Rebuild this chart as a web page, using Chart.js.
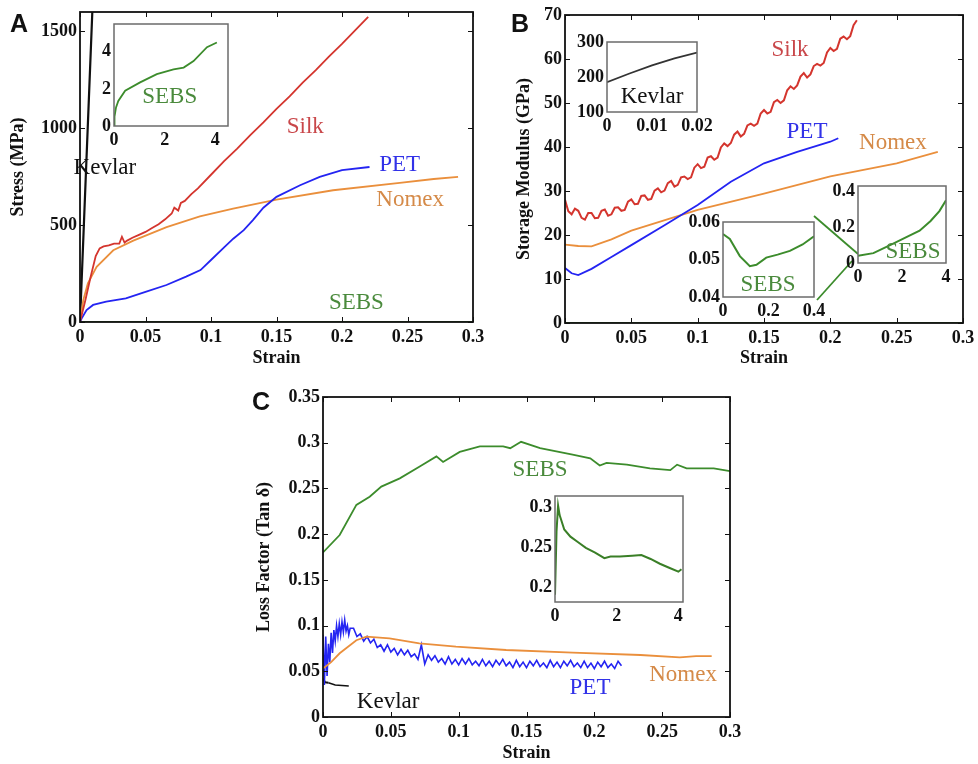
<!DOCTYPE html>
<html>
<head>
<meta charset="utf-8">
<script src="https://cdn.jsdelivr.net/npm/chart.js@4.4.0/dist/chart.umd.min.js"></script>
<style>
  body { margin: 0; background: #fff; }
  #fig { position: relative; width: 978px; height: 764px; overflow: hidden; }
  #fig canvas { position: absolute; }
  .tag { position: absolute; z-index: 5; font: bold 25px 'Liberation Sans', Arial, sans-serif; line-height: 1; color: #111; }
</style>
</head>
<body>
<div id="fig">
  <div class="tag" style="left:10px;top:11px">A</div>
  <div class="tag" style="left:511px;top:11px">B</div>
  <div class="tag" style="left:252px;top:389px">C</div>
</div>
<script>
// ---------- shared ticks ----------
var strainTicks = [0, 0.05, 0.1, 0.15, 0.2, 0.25, 0.3];
var strainLabels = ['0', '0.05', '0.1', '0.15', '0.2', '0.25', '0.3'];

// ---------- A: stress vs strain ----------
var stressTicks = [0, 500, 1000, 1500];
var stressLabels = ['0', '500', '1000', '1500'];
var aKevlarX = [0, 0.003, 0.006, 0.0094];
var aKevlarY = [0, 510, 1020, 1600];
var aSilkX = [0, 0.004, 0.008, 0.012, 0.015, 0.018, 0.022, 0.026, 0.03, 0.032, 0.034, 0.036, 0.04, 0.045, 0.05, 0.055, 0.06, 0.065, 0.07, 0.072, 0.075, 0.077, 0.08, 0.085, 0.09, 0.1, 0.11, 0.12, 0.13, 0.14, 0.15, 0.16, 0.17, 0.18, 0.19, 0.2, 0.21, 0.22];
var aSilkY = [0, 110, 230, 340, 380, 390, 395, 405, 405, 440, 410, 420, 435, 450, 465, 485, 505, 530, 560, 590, 575, 615, 625, 660, 690, 760, 830, 895, 965, 1030, 1100, 1165, 1235, 1300, 1370, 1435, 1505, 1575];
var aPetX = [0, 0.0013, 0.005, 0.01, 0.02, 0.035, 0.05, 0.066, 0.081, 0.092, 0.1, 0.11, 0.117, 0.125, 0.132, 0.14, 0.15, 0.168, 0.183, 0.2, 0.221];
var aPetY = [0, 19, 62, 88, 105, 122, 156, 191, 234, 268, 320, 385, 430, 474, 526, 590, 646, 706, 749, 784, 800];
var aNomexX = [0, 0.0025, 0.006, 0.0127, 0.0254, 0.0407, 0.0661, 0.0915, 0.1169, 0.15, 0.1932, 0.2441, 0.27, 0.2886];
var aNomexY = [0, 113, 200, 285, 370, 420, 490, 545, 585, 632, 680, 718, 738, 749];
var aSebsX = [0, 0.3];
var aSebsY = [0, 0];
// inset: SEBS up to large strain
var aInX = [0, 0.02, 0.08, 0.17, 0.44, 1.03, 1.69, 2.35, 2.75, 3.14, 3.67, 4.06];
var aInY = [0, 0.5, 1.0, 1.35, 1.9, 2.35, 2.8, 3.05, 3.15, 3.5, 4.25, 4.5];
var aInTicks = [0, 2, 4];
var aInLabels = ['0', '2', '4'];

// ---------- B: storage modulus ----------
var modTicks = [0, 10, 20, 30, 40, 50, 60, 70];
var modLabels = ['0', '10', '20', '30', '40', '50', '60', '70'];
var bSilkX = [0, 0.0025, 0.005, 0.0075, 0.01, 0.0125, 0.015, 0.0175, 0.02, 0.0225, 0.025, 0.0275, 0.03, 0.0325, 0.035, 0.0375, 0.04, 0.0425, 0.045, 0.0475,
  0.05, 0.0525, 0.055, 0.0575, 0.06, 0.0625, 0.065, 0.0675, 0.07, 0.0725, 0.075, 0.0775, 0.08, 0.0825, 0.085, 0.0875, 0.09, 0.0925, 0.095, 0.0975,
  0.1, 0.1025, 0.105, 0.1075, 0.11, 0.1125, 0.115, 0.1175, 0.12, 0.1225, 0.125, 0.1275, 0.13, 0.1325, 0.135, 0.1375, 0.14, 0.1425, 0.145, 0.1475,
  0.15, 0.1525, 0.155, 0.1575, 0.16, 0.1625, 0.165, 0.1675, 0.17, 0.1725, 0.175, 0.1775, 0.18, 0.1825, 0.185, 0.1875, 0.19, 0.1925, 0.195, 0.1975,
  0.2, 0.2025, 0.205, 0.2075, 0.21, 0.2125, 0.215, 0.2175, 0.22];
var bSilkY = [28, 25.4, 24.7, 26.0, 25.5, 23.9, 23.5, 25.0, 25.0, 23.8, 23.9, 25.5, 25.8, 24.4, 24.7, 26.2, 26.3, 25.5, 25.7, 27.6,
  28.1, 27.0, 27.1, 28.9, 29.0, 28.0, 28.2, 30.1, 30.6, 29.7, 30.1, 31.8, 32.3, 31.0, 31.4, 33.1, 33.3, 32.7, 33.1, 35.3,
  36.1, 35.2, 35.5, 37.6, 37.9, 37.1, 37.6, 39.9, 40.8, 40.2, 40.9, 42.8, 43.5, 42.4, 43.0, 44.9, 45.3, 44.8, 45.3, 47.6,
  48.4, 47.6, 48.0, 50.2, 50.7, 50.0, 50.6, 52.9, 53.8, 53.2, 54.0, 56.0, 56.8, 55.8, 56.5, 58.4, 58.9, 58.5, 59.1, 61.5,
  62.5, 61.8, 62.3, 64.6, 65.1, 64.5, 65.2, 67.7, 68.8];
var bPetX = [0, 0.005, 0.01, 0.02, 0.035, 0.05, 0.075, 0.1, 0.125, 0.15, 0.175, 0.2, 0.206];
var bPetY = [12.5, 11.3, 10.9, 12.3, 15, 17.7, 22.2, 26.8, 32.1, 36.3, 38.9, 41.2, 42];
var bNomexX = [0, 0.01, 0.02, 0.035, 0.05, 0.1, 0.15, 0.2, 0.25, 0.281];
var bNomexY = [17.8, 17.5, 17.4, 19, 21, 25.7, 29.4, 33.3, 36.3, 38.9];
var bSebsX = [0, 0.3];
var bSebsY = [0, 0];
// inset: Kevlar
var bKevX = [0, 0.005, 0.01, 0.015, 0.02];
var bKevY = [185, 210, 233, 253, 270];
var bKevTicksX = [0, 0.01, 0.02];
var bKevLabelsX = ['0', '0.01', '0.02'];
var bKevTicksY = [100, 200, 300];
var bKevLabelsY = ['100', '200', '300'];
// inset: SEBS, small strain
var bIn1X = [0, 0.03, 0.074, 0.118, 0.147, 0.19, 0.24, 0.294, 0.35, 0.4];
var bIn1Y = [0.0568, 0.0555, 0.0509, 0.0482, 0.0486, 0.0505, 0.0513, 0.0523, 0.054, 0.0562];
var bIn1TicksX = [0, 0.2, 0.4];
var bIn1LabelsX = ['0', '0.2', '0.4'];
var bIn1TicksY = [0.04, 0.05, 0.06];
var bIn1LabelsY = ['0.04', '0.05', '0.06'];
// inset: SEBS, large strain
var bIn2X = [0, 0.7, 1.46, 2.2, 2.8, 3.3, 3.7, 4];
var bIn2Y = [0.04, 0.055, 0.1, 0.145, 0.18, 0.235, 0.29, 0.35];
var bIn2TicksX = [0, 2, 4];
var bIn2LabelsX = ['0', '2', '4'];
var bIn2TicksY = [0, 0.2, 0.4];
var bIn2LabelsY = ['0', '0.2', '0.4'];

// ---------- C: loss factor ----------
var lossTicks = [0, 0.05, 0.1, 0.15, 0.2, 0.25, 0.3, 0.35];
var lossLabels = ['0', '0.05', '0.1', '0.15', '0.2', '0.25', '0.3', '0.35'];
var cSebsX = [0, 0.0123, 0.0246, 0.0344, 0.043, 0.0566, 0.0713, 0.0836, 0.0885, 0.1008, 0.1156, 0.1328, 0.138, 0.146, 0.16, 0.184, 0.197, 0.204, 0.209, 0.224, 0.241, 0.256, 0.261, 0.268, 0.288, 0.3];
var cSebsY = [0.18, 0.199, 0.232, 0.241, 0.252, 0.261, 0.274, 0.285, 0.279, 0.29, 0.296, 0.296, 0.294, 0.301, 0.294, 0.287, 0.283, 0.275, 0.278, 0.276, 0.272, 0.27, 0.276, 0.272, 0.272, 0.269];
var cNomexX = [0, 0.006, 0.0123, 0.0246, 0.032, 0.049, 0.071, 0.098, 0.135, 0.184, 0.234, 0.263, 0.275, 0.2865];
var cNomexY = [0.053, 0.06, 0.0697, 0.084, 0.0878, 0.086, 0.0806, 0.0769, 0.0733, 0.0703, 0.0678, 0.0653, 0.0665, 0.0665];
var cPetX = [0, 0.001, 0.002, 0.003, 0.004, 0.005, 0.006, 0.007, 0.008, 0.009, 0.01, 0.011, 0.012, 0.013, 0.014, 0.015, 0.016, 0.017, 0.018, 0.019, 0.02,
  0.0225, 0.025, 0.0275, 0.03, 0.0325, 0.035, 0.0375, 0.04, 0.0425, 0.045, 0.0475, 0.05, 0.0525, 0.055, 0.0575, 0.06,
  0.0625, 0.065, 0.0675, 0.07, 0.0725, 0.075, 0.0775, 0.08, 0.0825, 0.085, 0.0875, 0.09, 0.0925, 0.095, 0.0975, 0.1,
  0.1025, 0.105, 0.1075, 0.11, 0.1125, 0.115, 0.1175, 0.12, 0.1225, 0.125, 0.1275, 0.13, 0.1325, 0.135, 0.1375, 0.14,
  0.1425, 0.145, 0.1475, 0.15, 0.1525, 0.155, 0.1575, 0.16, 0.1625, 0.165, 0.1675, 0.17, 0.1725, 0.175, 0.1775, 0.18,
  0.1825, 0.185, 0.1875, 0.19, 0.1925, 0.195, 0.1975, 0.2, 0.2025, 0.205, 0.2075, 0.21, 0.2125, 0.215, 0.2175, 0.22];
var cPetY = [0.09, 0.035, 0.088, 0.045, 0.08, 0.06, 0.092, 0.07, 0.095, 0.083, 0.1, 0.088, 0.102, 0.09, 0.104, 0.093, 0.106, 0.094, 0.1, 0.09, 0.097,
  0.097, 0.088, 0.091, 0.083, 0.088, 0.081, 0.085, 0.076, 0.079, 0.072, 0.079, 0.071, 0.075, 0.068, 0.074, 0.068,
  0.073, 0.066, 0.069, 0.063, 0.079, 0.058, 0.068, 0.062, 0.067, 0.06, 0.064, 0.058, 0.066, 0.058, 0.063, 0.057,
  0.064, 0.058, 0.064, 0.057, 0.061, 0.056, 0.063, 0.056, 0.061, 0.055, 0.062, 0.057, 0.063, 0.056, 0.06, 0.054,
  0.062, 0.055, 0.06, 0.054, 0.061, 0.056, 0.062, 0.055, 0.059, 0.054, 0.062, 0.055, 0.06, 0.054, 0.061, 0.056,
  0.062, 0.055, 0.059, 0.054, 0.061, 0.054, 0.059, 0.053, 0.06, 0.055, 0.061, 0.054, 0.058, 0.053, 0.061, 0.056];
var cKevX = [0, 0.0015, 0.004];
var cKevY = [0.042, 0.038, 0.0375];
// inset: SEBS over large strain
var cInX = [0, 0.05, 0.1, 0.15, 0.3, 0.5, 0.75, 1, 1.3, 1.6, 1.8, 2.1, 2.5, 2.8, 3.1, 3.4, 3.7, 4, 4.1];
var cInY = [0.19, 0.27, 0.302, 0.29, 0.272, 0.263, 0.256, 0.249, 0.243, 0.236, 0.238, 0.238, 0.239, 0.24, 0.235, 0.229, 0.224, 0.219, 0.222];
var cInTicksX = [0, 2, 4];
var cInLabelsX = ['0', '2', '4'];
var cInTicksY = [0.2, 0.25, 0.3];
var cInLabelsY = ['0.2', '0.25', '0.3'];

// ---------- styling ----------
var SERIF = "'Liberation Serif', 'Times New Roman', serif";
var INK = '#111';
var RED = '#d4352e', BLUE = '#2424f2', ORANGE = '#ea8f3c', GREEN = '#3c8c2c';
var TXT_RED = '#c9474a', TXT_BLUE = '#3232e8', TXT_ORANGE = '#d58a48', TXT_GREEN = '#4a8a3c';

var fig = document.getElementById('fig');

function pts(xs, ys) {
  return xs.map(function (x, i) { return { x: x, y: ys[i] }; });
}
function line(xs, ys, color, width) {
  return { data: pts(xs, ys), borderColor: color, borderWidth: width, showLine: true, pointRadius: 0, fill: false };
}
function setTicks(vals) {
  return function (s) { s.ticks = vals.map(function (v) { return { value: v }; }); };
}
function fixSize(size) {
  return function (s) {
    if (s.isHorizontal()) s.height = size; else s.width = size;
    s.paddingLeft = 0; s.paddingRight = 0; s.paddingTop = 0; s.paddingBottom = 0;
  };
}
function tickFont() { return { family: SERIF, size: 18, weight: 'bold' }; }
function titleFont() { return { family: SERIF, size: 18, weight: 'bold' }; }

// frame box, inward ticks, text notes, leader and link lines
function decor(p) {
  return {
    id: 'decor',
    beforeDraw: function (chart) {
      if (!p.inset) return;
      var a = chart.chartArea, c = chart.ctx;
      c.save();
      c.fillStyle = '#fff';
      c.fillRect(a.left, a.top, a.right - a.left, a.bottom - a.top);
      c.restore();
    },
    afterDraw: function (chart) {
      var c = chart.ctx, a = chart.chartArea, sx = chart.scales.x, sy = chart.scales.y;
      c.save();
      if (!p.inset) {
        // MATLAB style ticks pointing inwards on all four sides
        c.strokeStyle = INK; c.lineWidth = 1;
        c.beginPath();
        p.xt.forEach(function (v) {
          var px = Math.round(sx.getPixelForValue(v)) + 0.5;
          c.moveTo(px, a.bottom); c.lineTo(px, a.bottom - 5);
          c.moveTo(px, a.top); c.lineTo(px, a.top + 5);
        });
        p.yt.forEach(function (v) {
          var py = Math.round(sy.getPixelForValue(v)) + 0.5;
          c.moveTo(a.left, py); c.lineTo(a.left + 5, py);
          c.moveTo(a.right, py); c.lineTo(a.right - 5, py);
        });
        c.stroke();
      }
      c.strokeStyle = p.inset ? '#6b6b6b' : INK;
      c.lineWidth = p.inset ? 1.5 : 1.8;
      c.strokeRect(a.left, a.top, a.right - a.left, a.bottom - a.top);
      (p.leaders || []).forEach(function (l) {
        c.strokeStyle = l.color; c.lineWidth = 1.5;
        c.beginPath();
        l.x.forEach(function (x, i) {
          var px = sx.getPixelForValue(x), py = sy.getPixelForValue(l.y[i]);
          if (i === 0) c.moveTo(px, py); else c.lineTo(px, py);
        });
        c.stroke();
      });
      (p.links || []).forEach(function (k) {
        c.strokeStyle = GREEN; c.lineWidth = 1.8;
        c.beginPath();
        c.moveTo(k[0][0] - p.box[0], k[0][1] - p.box[1]);
        c.lineTo(k[1][0] - p.box[0], k[1][1] - p.box[1]);
        c.stroke();
      });
      c.textAlign = 'center'; c.textBaseline = 'middle';
      (p.notes || []).forEach(function (n) {
        c.font = '23px ' + SERIF;
        c.fillStyle = n.color;
        c.fillText(n.text, sx.getPixelForValue(n.x), sy.getPixelForValue(n.y));
      });
      c.restore();
    }
  };
}

function panel(p) {
  var box = p.box, area = p.area, main = !p.inset;
  var el = document.createElement('canvas');
  el.width = box[2]; el.height = box[3];
  el.style.left = box[0] + 'px'; el.style.top = box[1] + 'px';
  fig.appendChild(el);

  var scales = {
    x: {
      type: 'linear', position: 'bottom', min: p.xr[0], max: p.xr[1],
      afterBuildTicks: setTicks(p.xt), afterFit: fixSize(box[1] + box[3] - area[3]),
      ticks: { autoSkip: false, maxRotation: 0, padding: main ? 5 : 4, color: INK, font: tickFont(),
        callback: function (v, i) { return p.xl[i]; } },
      grid: { display: false, drawTicks: false }, border: { display: false },
      title: { display: !!p.xTitle, text: p.xTitle || '', color: INK, font: titleFont(), padding: { top: 0, bottom: p.xPad || 0 } }
    },
    y: {
      type: 'linear', position: 'left', min: p.yr[0], max: p.yr[1],
      afterBuildTicks: setTicks(p.yt), afterFit: fixSize(area[0] - box[0]),
      ticks: { autoSkip: false, padding: 3, color: INK, font: tickFont(),
        callback: function (v, i) { return p.yl[i]; } },
      grid: { display: false, drawTicks: false }, border: { display: false },
      title: { display: !!p.yTitle, text: p.yTitle || '', color: INK, font: titleFont(), padding: { top: p.yPad || 0, bottom: 0 } }
    }
  };

  return new Chart(el, {
    type: 'scatter',
    data: { datasets: p.sets },
    options: {
      responsive: false,
      animation: false,
      devicePixelRatio: 1,
      layout: { padding: { left: 0, top: area[1] - box[1], right: box[0] + box[2] - area[2], bottom: 0 } },
      scales: scales,
      plugins: { legend: { display: false }, tooltip: { enabled: false } }
    },
    plugins: [decor(p)]
  });
}

// ---------- layout (page pixels) ----------
var A_MAIN = { box: [0, 0, 495, 370], area: [80, 12, 473, 322] };
var A_IN = { box: [86, 12, 160, 140], area: [114, 24, 228, 126] };
var B_MAIN = { box: [490, 0, 488, 370], area: [565, 15, 963, 323] };
var B_KEV = { box: [560, 30, 170, 105], area: [607, 42, 697, 112] };
var B_IN1 = { box: [676, 210, 150, 112], area: [723, 222, 814, 297] };
var B_IN2 = { box: [812, 174, 160, 112], area: [858, 186, 946, 263] };
var C_MAIN = { box: [240, 380, 510, 384], area: [323, 397, 730, 717] };
var C_IN = { box: [508, 484, 190, 140], area: [555, 496, 683, 602] };

// ---------- A ----------
panel({
  box: A_MAIN.box, area: A_MAIN.area,
  xr: [0, 0.3], xt: strainTicks, xl: strainLabels, xTitle: 'Strain', xPad: 1,
  yr: [0, 1600], yt: stressTicks, yl: stressLabels, yTitle: 'Stress (MPa)', yPad: 8,
  sets: [
    line(aSilkX, aSilkY, RED, 1.8),
    line(aPetX, aPetY, BLUE, 1.8),
    line(aNomexX, aNomexY, ORANGE, 1.8),
    line(aKevlarX, aKevlarY, INK, 2.2),
    line(aSebsX, aSebsY, GREEN, 2)
  ],
  notes: [
    { text: 'Silk', x: 0.172, y: 1005, color: TXT_RED },
    { text: 'PET', x: 0.244, y: 809, color: TXT_BLUE },
    { text: 'Nomex', x: 0.252, y: 629, color: TXT_ORANGE },
    { text: 'SEBS', x: 0.211, y: 98, color: TXT_GREEN },
    { text: 'Kevlar', x: 0.019, y: 794, color: INK }
  ]
});
panel({
  box: A_IN.box, area: A_IN.area, inset: true,
  xr: [0, 4.5], xt: aInTicks, xl: aInLabels,
  yr: [0, 5.5], yt: aInTicks, yl: aInLabels,
  sets: [line(aInX, aInY, GREEN, 1.8)],
  notes: [{ text: 'SEBS', x: 2.2, y: 1.57, color: TXT_GREEN }]
});

// ---------- B ----------
panel({
  box: B_MAIN.box, area: B_MAIN.area,
  xr: [0, 0.3], xt: strainTicks, xl: strainLabels, xTitle: 'Strain', xPad: 1,
  yr: [0, 70], yt: modTicks, yl: modLabels, yTitle: 'Storage Modulus (GPa)', yPad: 24,
  sets: [
    line(bSilkX, bSilkY, RED, 2),
    line(bPetX, bPetY, BLUE, 1.8),
    line(bNomexX, bNomexY, ORANGE, 1.8),
    line(bSebsX, bSebsY, GREEN, 2)
  ],
  notes: [
    { text: 'Silk', x: 0.1696, y: 62, color: TXT_RED },
    { text: 'PET', x: 0.1824, y: 43.4, color: TXT_BLUE },
    { text: 'Nomex', x: 0.2472, y: 40.9, color: TXT_ORANGE }
  ],
  links: [
    [[B_IN1.area[2], B_IN1.area[1] - 6], [B_IN2.area[0], B_IN2.area[3] - 9]],
    [[B_IN1.area[2] + 3, B_IN1.area[3] + 3], [B_IN2.area[0] - 6, B_IN2.area[3] - 2]]
  ]
});
panel({
  box: B_KEV.box, area: B_KEV.area, inset: true,
  xr: [0, 0.02], xt: bKevTicksX, xl: bKevLabelsX,
  yr: [100, 300], yt: bKevTicksY, yl: bKevLabelsY,
  sets: [line(bKevX, bKevY, '#333', 1.8)],
  notes: [{ text: 'Kevlar', x: 0.01, y: 143, color: INK }]
});
panel({
  box: B_IN1.box, area: B_IN1.area, inset: true,
  xr: [0, 0.4], xt: bIn1TicksX, xl: bIn1LabelsX,
  yr: [0.04, 0.06], yt: bIn1TicksY, yl: bIn1LabelsY,
  sets: [line(bIn1X, bIn1Y, GREEN, 2)],
  notes: [{ text: 'SEBS', x: 0.198, y: 0.0432, color: TXT_GREEN }]
});
panel({
  box: B_IN2.box, area: B_IN2.area, inset: true,
  xr: [0, 4], xt: bIn2TicksX, xl: bIn2LabelsX,
  yr: [0, 0.43], yt: bIn2TicksY, yl: bIn2LabelsY,
  sets: [line(bIn2X, bIn2Y, GREEN, 2)],
  notes: [{ text: 'SEBS', x: 2.5, y: 0.061, color: TXT_GREEN }]
});

// ---------- C ----------
panel({
  box: C_MAIN.box, area: C_MAIN.area,
  xr: [0, 0.3], xt: strainTicks, xl: strainLabels, xTitle: 'Strain', xPad: 0,
  yr: [0, 0.35], yt: lossTicks, yl: lossLabels, yTitle: 'Loss Factor (Tan \u03b4)', yPad: 14,
  sets: [
    line(cNomexX, cNomexY, ORANGE, 1.8),
    line(cPetX, cPetY, BLUE, 1.6),
    line(cSebsX, cSebsY, GREEN, 1.8),
    line(cKevX, cKevY, INK, 2)
  ],
  notes: [
    { text: 'SEBS', x: 0.16, y: 0.27, color: TXT_GREEN },
    { text: 'Nomex', x: 0.2654, y: 0.046, color: TXT_ORANGE },
    { text: 'PET', x: 0.1968, y: 0.0317, color: TXT_BLUE },
    { text: 'Kevlar', x: 0.048, y: 0.0164, color: INK }
  ],
  leaders: [{ x: [0.004, 0.009, 0.019], y: [0.0375, 0.035, 0.034], color: INK }]
});
panel({
  box: C_IN.box, area: C_IN.area, inset: true,
  xr: [0, 4.15], xt: cInTicksX, xl: cInLabelsX,
  yr: [0.181, 0.314], yt: cInTicksY, yl: cInLabelsY,
  sets: [line(cInX, cInY, '#3a7f27', 2)]
});
</script>
</body>
</html>
